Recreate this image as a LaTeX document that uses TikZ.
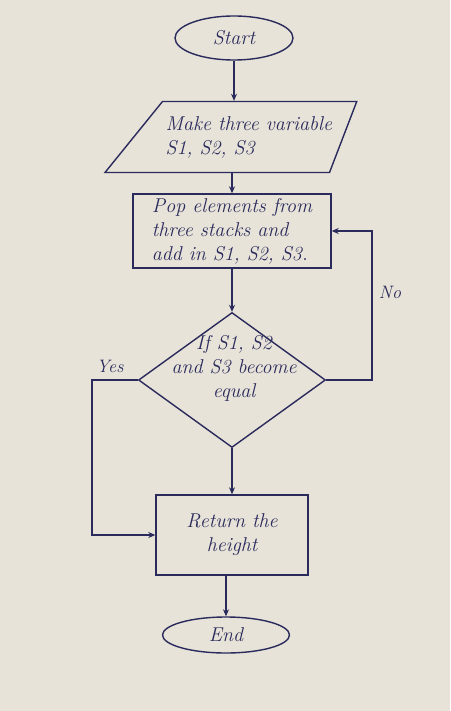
\documentclass[tikz,border=0pt]{standalone}
\usetikzlibrary{shapes.geometric,arrows.meta,calc}
\definecolor{paper}{RGB}{231,227,216}
\definecolor{ink}{RGB}{42,42,92}
\begin{document}
\begin{tikzpicture}[x=1pt,y=-1pt,
  inkline/.style={draw=ink, line width=1.4pt},
  hand/.style={text=ink, font=\fontsize{20}{24}\selectfont\itshape},
  arr/.style={draw=ink, line width=1.4pt, -{Stealth[length=7pt,width=6pt]}},
  box/.style={rectangle, inkline, inner sep=4pt},
  lbl/.style={text=ink, font=\fontsize{18}{20}\selectfont\itshape}]
\fill[paper] (0,0) rectangle (450,711);
\useasboundingbox (0,0) rectangle (450,711);

\node[ellipse, inkline, minimum width=118, minimum height=44, inner sep=0, hand] (start) at (234,38) {Start};
\node[trapezium, trapezium left angle=51, trapezium right angle=111, inkline, inner sep=0] (par) at (246,137) {\phantom{\rule{167pt}{71pt}}};
\node[hand, align=left, anchor=west] (partxt) at (162,137) {Make three variable\\S1, S2, S3};
\node[box, minimum width=198, minimum height=74, hand, align=left] (pop) at (232,231) {Pop elements from\\three stacks and\\add in S1, S2, S3.};
\node[diamond, inkline, minimum width=187, minimum height=135, inner sep=0] (dia) at (232,380) {};
\node[hand, align=center] (diatxt) at (234,368) {If S1, S2\\and S3 become\\equal};
\node[box, minimum width=152, minimum height=80, hand, align=center] (ret) at (232,535) {Return the\\height};
\node[ellipse, inkline, minimum width=127, minimum height=36, inner sep=0, hand] (stop) at (226,635) {End};

\coordinate (noC) at (372,0);
\coordinate (yesC) at (92,0);

\draw[arr] (start.south) -- (start.south |- par.north);
\draw[arr] (pop.north |- par.south) -- (pop.north);
\draw[arr] (pop.south) -- (dia.north);
\draw[arr] (dia.east) -- (dia.east -| noC) -- (noC |- pop.east) -- (pop.east);
\draw[arr] (dia.west) -- (dia.west -| yesC) -- (yesC |- ret.west) -- (ret.west);
\draw[arr] (dia.south) -- (ret.north);
\draw[arr] (ret.south -| stop.north) -- (stop.north);

\node[lbl] (nolbl) at (390,292) {No};
\node[lbl] (yeslbl) at (110,366) {Yes};
\end{tikzpicture}
\end{document}
